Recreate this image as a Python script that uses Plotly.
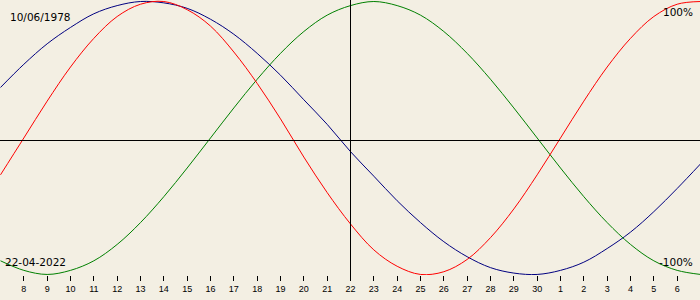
import plotly.graph_objects as go

# Day index: days counted from 1 April 2022 (31 = 1 May)
days = [7, 8, 9, 10, 11, 12, 13, 14, 15, 16, 17, 18, 19, 20, 21, 22,
        23, 24, 25, 26, 27, 28, 29, 30, 31, 32, 33, 34, 35, 36, 37]

physical = [-0.27, 0.00, 0.27, 0.52, 0.73, 0.89, 0.98, 1.00, 0.94, 0.82, 0.63,
            0.40, 0.14, -0.14, -0.40, -0.63, -0.82, -0.94, -1.00, -0.98, -0.89,
            -0.73, -0.52, -0.27, 0.00, 0.27, 0.52, 0.73, 0.89, 0.98, 1.00]

emotional = [-0.90, -0.97, -1.00, -0.97, -0.90, -0.78, -0.62, -0.43, -0.22, 0.00,
             0.22, 0.43, 0.62, 0.78, 0.90, 0.97, 1.00, 0.97, 0.90, 0.78, 0.62,
             0.43, 0.22, 0.00, -0.22, -0.43, -0.62, -0.78, -0.90, -0.97, -1.00]

intellectual = [0.37, 0.54, 0.69, 0.81, 0.91, 0.97, 1.00, 0.99, 0.95, 0.87, 0.76,
                0.62, 0.46, 0.28, 0.10, -0.10, -0.28, -0.46, -0.62, -0.76, -0.87,
                -0.95, -0.99, -1.00, -0.97, -0.91, -0.81, -0.69, -0.54, -0.37, -0.19]

tick_days = [8, 9, 10, 11, 12, 13, 14, 15, 16, 17, 18, 19, 20, 21, 22, 23, 24,
             25, 26, 27, 28, 29, 30, 31, 32, 33, 34, 35, 36]
tick_labels = ["8", "9", "10", "11", "12", "13", "14", "15", "16", "17", "18",
               "19", "20", "21", "22", "23", "24", "25", "26", "27", "28", "29",
               "30", "1", "2", "3", "4", "5", "6"]

current_day = 22
birth_label = "10/06/1978"
date_label = "22-04-2022"

BG = "#f3efe3"
FONT = "DejaVu Sans"
PLOT_H = 275
PX_PER_DAY = 700 / 30

fig = go.Figure()
for vals, col in [(intellectual, "#000080"), (emotional, "#008000"), (physical, "#ff0000")]:
    fig.add_trace(go.Scatter(x=days, y=vals, mode="lines",
                             line=dict(color=col, width=1, shape="spline", smoothing=1.0),
                             hoverinfo="skip", showlegend=False))

# center lines
fig.add_shape(type="line", xref="paper", yref="paper", x0=0, x1=1,
              y0=1 - 140.5 / PLOT_H, y1=1 - 140.5 / PLOT_H,
              line=dict(color="black", width=1))
fig.add_shape(type="line", xref="x", yref="paper", x0=current_day, x1=current_day,
              y0=-6 / PLOT_H, y1=1, line=dict(color="black", width=1))


def label(text, x, y, anchor):
    fig.add_annotation(text=text, xref="paper", yref="paper", x=x / 700, y=1 - y / PLOT_H,
                       xanchor=anchor, yanchor="middle", showarrow=False, borderpad=0,
                       font=dict(family=FONT, size=10.5, color="black"))


label(birth_label, 9, 17, "left")
label(date_label, 4, 262, "left")
label("100%", 694, 12, "right")
label("-100%", 694, 262, "right")

off = 0.5 / PX_PER_DAY
fig.update_layout(
    width=700, height=300,
    margin=dict(l=0, r=0, t=0, b=300 - PLOT_H),
    paper_bgcolor=BG, plot_bgcolor=BG,
    xaxis=dict(range=[7 - off, 37 - off], showgrid=False, zeroline=False, showline=False,
               tickmode="array", tickvals=tick_days, ticktext=tick_labels,
               ticks="outside", ticklen=5, tickwidth=1, tickcolor="black",
               tickfont=dict(family="Liberation Sans", size=9, color="black")),
    yaxis=dict(range=[-1.004, 1.011], showgrid=False, zeroline=False,
               showline=False, showticklabels=False, ticks=""),
)

fig.write_html("out.html")
